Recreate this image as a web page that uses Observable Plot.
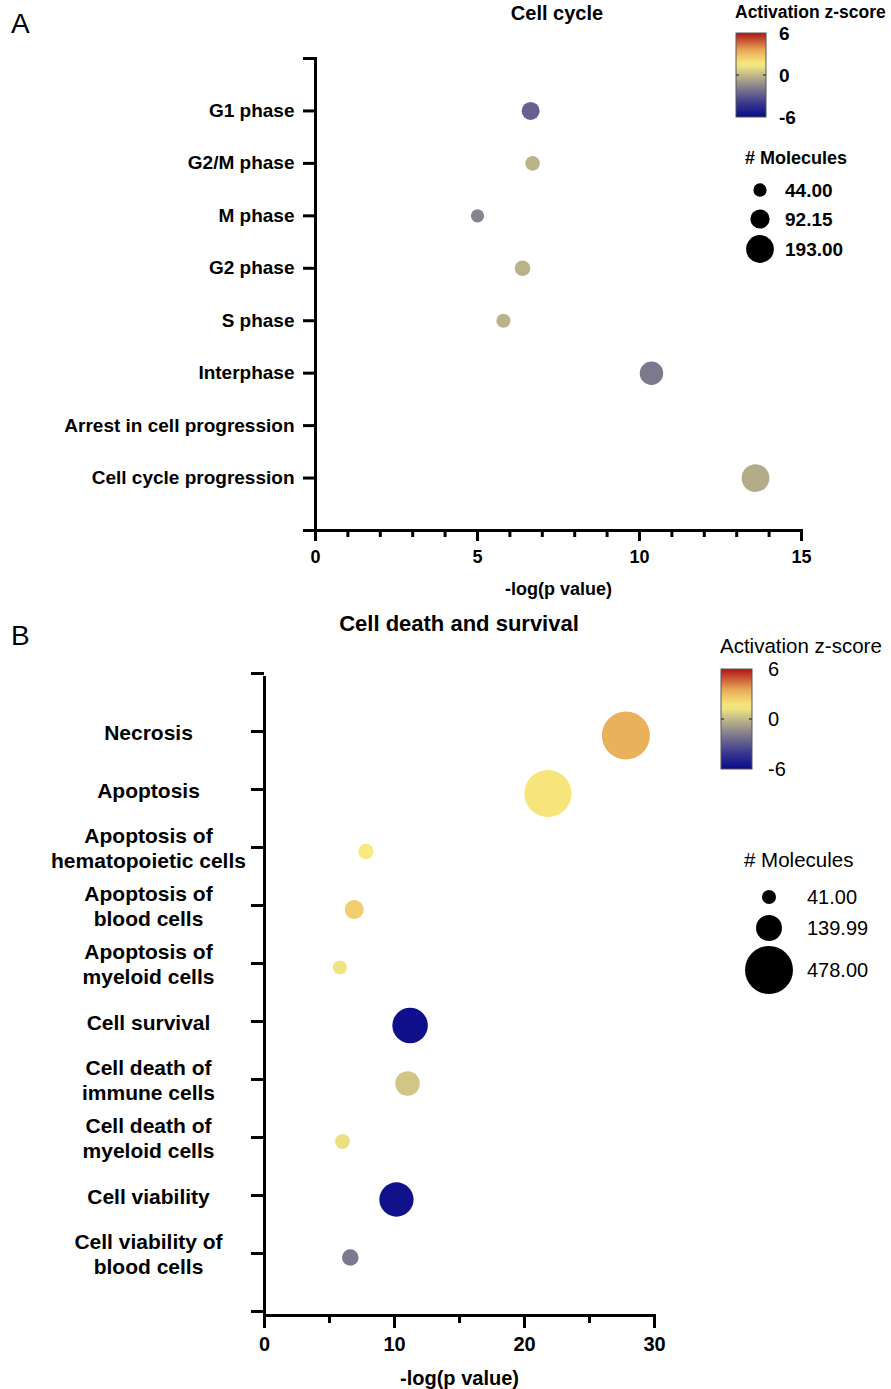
<!DOCTYPE html>
<html>
<head>
<meta charset="utf-8">
<script src="https://cdn.jsdelivr.net/npm/d3@7"></script>
<script src="https://cdn.jsdelivr.net/npm/@observablehq/plot@0.6"></script>
<style>
  html, body { margin: 0; padding: 0; background: #fff; }
  #root { position: relative; width: 891px; height: 1389px; overflow: hidden; font-family: "Liberation Sans", Arial, sans-serif; }
  #root > svg, #root > figure { position: absolute; margin: 0; }
</style>
</head>
<body>
<div id="root"></div>
<script>
// ---------- Panel A: Cell cycle ----------
const cycleTerms = ["G1 phase", "G2/M phase", "M phase", "G2 phase", "S phase", "Interphase", "Arrest in cell progression", "Cell cycle progression"];
const cycleLogP = [6.64, 6.70, 5.00, 6.39, 5.80, 10.37, null, 13.58];
const cycleZ = [-2.7, -0.2, -1.7, -0.2, -0.2, -2.0, null, -0.4];
const cycleMolecules = [81, 53, 44, 61, 49, 137, null, 193];
const cycleSizeLegend = [44.00, 92.15, 193.00];
const cycleXTicks = [0, 5, 10, 15];

// ---------- Panel B: Cell death and survival ----------
const deathTerms = ["Necrosis", "Apoptosis", "Apoptosis of\nhematopoietic cells", "Apoptosis of\nblood cells", "Apoptosis of\nmyeloid cells", "Cell survival", "Cell death of\nimmune cells", "Cell death of\nmyeloid cells", "Cell viability", "Cell viability of\nblood cells"];
const deathLogP = [27.8, 21.8, 7.8, 6.9, 5.8, 11.2, 11.0, 6.0, 10.15, 6.6];
const deathZ = [3.3, 1.8, 1.4, 2.4, 1.2, -5.8, 0.4, 1.1, -5.7, -2.0];
const deathMolecules = [478, 460, 49, 75, 41, 262, 125, 46, 244, 57];
const deathSizeLegend = [41.00, 139.99, 478.00];
const deathXTicks = [0, 10, 20, 30];

// ---------- shared colour scale (activation z-score) ----------
const zTicks = [6, 0, -6];
const zStops = [-6, -4, -2, 0, 1.5, 3.5, 6];
const zColors = ["#0a0a8c", "#3a3a8e", "#7c788e", "#c2b888", "#faee80", "#e8aa58", "#b01515"];

const FONT = '"Liberation Sans", Arial, sans-serif';

function buildRows(terms, logp, z, n) {
  const k = terms.length;
  return terms.map((term, i) => ({term, pos: k - i, logp: logp[i], z: z[i], n: n[i]}))
              .filter(d => d.logp != null);
}

const root = document.getElementById("root");

// ---------- Plot A ----------
const kA = cycleTerms.length;
const plotA = Plot.plot({
  width: 891, height: 600,
  marginLeft: 315, marginRight: 90, marginTop: 58, marginBottom: 70,
  style: {fontFamily: FONT, color: "#000", background: "transparent", overflow: "visible"},
  x: {domain: [0, 15]},
  y: {domain: [0, kA + 1]},
  r: {type: "sqrt", domain: [0, d3.max(cycleSizeLegend)], range: [0, 13.9]},
  color: {type: "linear", domain: zStops, range: zColors, clamp: true},
  marks: [
    Plot.axisY({ticks: d3.range(0, kA + 2), tickSize: 12, tickPadding: 9, strokeWidth: 3,
      fontSize: 19, fontWeight: "bold", label: null,
      tickFormat: p => (p >= 1 && p <= kA) ? cycleTerms[kA - p] : ""}),
    Plot.axisX({ticks: d3.range(0, 16), tickSize: 7, strokeWidth: 3, tickFormat: () => "", label: null}),
    Plot.axisX({ticks: cycleXTicks, tickSize: 11, tickPadding: 9, strokeWidth: 3,
      fontSize: 18, fontWeight: "bold", label: "-log(p value)", labelAnchor: "center",
      labelOffset: 64, labelArrow: "none"}),
    Plot.frame({anchor: "left", strokeWidth: 3}),
    Plot.frame({anchor: "bottom", strokeWidth: 3}),
    Plot.dot(buildRows(cycleTerms, cycleLogP, cycleZ, cycleMolecules),
      {x: "logp", y: "pos", r: "n", fill: "z"})
  ]
});
plotA.style.left = "0px"; plotA.style.top = "0px";
root.appendChild(plotA);

// ---------- Plot B ----------
const kB = deathTerms.length;
const plotB = Plot.plot({
  width: 891, height: 789,
  marginLeft: 264, marginRight: 237, marginTop: 77, marginBottom: 74,
  style: {fontFamily: FONT, color: "#000", background: "transparent", overflow: "visible"},
  x: {domain: [0, 30]},
  y: {domain: [0, kB + 1]},
  r: {type: "sqrt", domain: [0, d3.max(deathSizeLegend)], range: [0, 24.0]},
  color: {type: "linear", domain: zStops, range: zColors, clamp: true},
  marks: [
    Plot.axisY({ticks: d3.range(0, kB + 2), tickSize: 13, tickPadding: 103, strokeWidth: 3,
      textAnchor: "middle", lineHeight: 1.2, dy: -4,
      fontSize: 21, fontWeight: "bold", label: null,
      tickFormat: p => (p >= 1 && p <= kB) ? deathTerms[kB - p] : ""}),
    Plot.axisX({ticks: d3.range(0, 31, 5), tickSize: 8, strokeWidth: 3, tickFormat: () => "", label: null}),
    Plot.axisX({ticks: deathXTicks, tickSize: 13, tickPadding: 8, strokeWidth: 3,
      fontSize: 20, fontWeight: "bold", label: "-log(p value)", labelAnchor: "center",
      labelOffset: 69, labelArrow: "none"}),
    Plot.frame({anchor: "left", strokeWidth: 3}),
    Plot.frame({anchor: "bottom", strokeWidth: 3}),
    Plot.dot(buildRows(deathTerms, deathLogP, deathZ, deathMolecules),
      {x: "logp", y: "pos", r: "n", fill: "z"})
  ]
});
plotB.style.left = "0px"; plotB.style.top = "600px";
root.appendChild(plotB);

// ---------- overlay: panel letters, titles, legends ----------
const ov = d3.select(root).append("svg")
  .attr("width", 891).attr("height", 1389)
  .style("left", "0px").style("top", "0px")
  .style("font-family", FONT);
const defs = ov.append("defs");

function text(x, y, s, size, weight, anchor) {
  return ov.append("text").attr("x", x).attr("y", y).text(s)
    .attr("font-size", size).attr("font-weight", weight || "normal")
    .attr("text-anchor", anchor || "start").attr("fill", "#000");
}

text(11, 33, "A", 28, "normal");
text(11, 645, "B", 28, "normal");
text(557, 20, "Cell cycle", 20, "bold", "middle");
text(459, 631, "Cell death and survival", 22, "bold", "middle");

function legend(plot, id, o) {
  const cs = plot.scale("color");
  const rs = plot.scale("r");
  const lo = d3.min(zTicks), hi = d3.max(zTicks);
  const grad = defs.append("linearGradient").attr("id", id)
    .attr("x1", 0).attr("y1", 0).attr("x2", 0).attr("y2", 1);
  d3.range(0, 1.0001, 0.05).forEach(t => {
    grad.append("stop").attr("offset", t).attr("stop-color", cs.apply(hi - (hi - lo) * t));
  });
  text(o.titleX, o.titleY, "Activation z-score", o.titleSize, o.weight);
  const zy = d3.scaleLinear().domain([lo, hi]).range([o.barY + o.barH, o.barY]);
  ov.append("rect").attr("x", o.barX).attr("y", o.barY).attr("width", o.barW).attr("height", o.barH)
    .attr("fill", `url(#${id})`).attr("stroke", "#555").attr("stroke-width", 1);
  ov.append("line").attr("x1", o.barX).attr("x2", o.barX + 3).attr("y1", zy(0)).attr("y2", zy(0))
    .attr("stroke", "#333").attr("stroke-width", 1.2);
  ov.append("line").attr("x1", o.barX + o.barW - 3).attr("x2", o.barX + o.barW).attr("y1", zy(0)).attr("y2", zy(0))
    .attr("stroke", "#333").attr("stroke-width", 1.2);
  zTicks.forEach(v => {
    text(o.barX + o.barW + o.zLabelGap, zy(v) + o.labelSize * 0.36, String(v), o.labelSize, o.weight);
  });
  text(o.molX, o.molY, "# Molecules", o.titleSize2, o.weight);
  o.sizes.forEach((v, i) => {
    const cy = o.dotY[i];
    ov.append("circle").attr("cx", o.dotX).attr("cy", cy).attr("r", rs.apply(v)).attr("fill", "#000");
    text(o.sizeLabelX, cy + o.labelSize * 0.36, v.toFixed(2), o.labelSize, o.weight);
  });
}

legend(plotA, "gradA", {
  titleX: 735, titleY: 18, titleSize: 17.5, weight: "bold",
  barX: 736, barY: 33, barW: 30, barH: 84, zLabelGap: 13, labelSize: 19,
  molX: 745, molY: 164, titleSize2: 18,
  sizes: cycleSizeLegend, dotX: 760, dotY: [190, 219, 249], sizeLabelX: 785
});
legend(plotB, "gradB", {
  titleX: 720, titleY: 653, titleSize: 20.5, weight: "normal",
  barX: 721, barY: 669, barW: 31, barH: 100, zLabelGap: 16, labelSize: 20,
  molX: 744, molY: 867, titleSize2: 20.5,
  sizes: deathSizeLegend, dotX: 769, dotY: [897, 928, 970], sizeLabelX: 807
});
</script>
</body>
</html>
